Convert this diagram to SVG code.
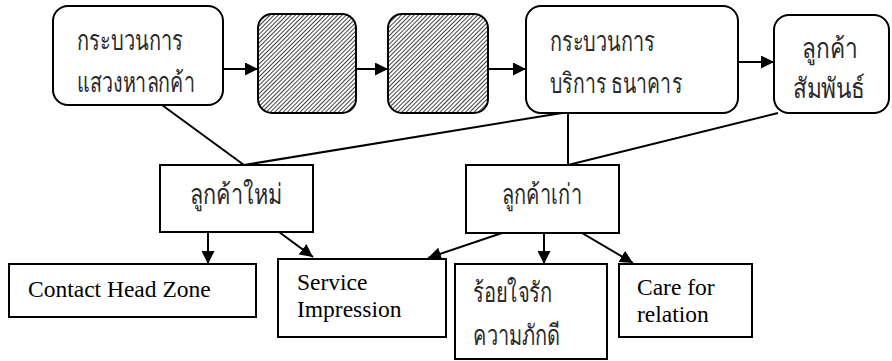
<svg xmlns="http://www.w3.org/2000/svg" width="892" height="361" viewBox="0 0 892 361">
  <defs>
    <pattern id="hatch" patternUnits="userSpaceOnUse" width="3" height="3" patternTransform="rotate(45)">
      <rect width="3" height="3" fill="#ffffff"/>
      <line x1="0" y1="0" x2="0" y2="3" stroke="#1e1e1e" stroke-width="1.7"/>
    </pattern>
    <marker id="arrow" viewBox="0 0 13 13" refX="13" refY="6.5" markerWidth="13" markerHeight="13" markerUnits="userSpaceOnUse" orient="auto">
      <path d="M0,0 L13,6.5 L0,13 Z" fill="#000"/>
    </marker>
  </defs>
  <style>
    .box { fill: #fff; stroke: #000; stroke-width: 2; }
    .hatched { fill: url(#hatch); stroke: #000; stroke-width: 2; }
    .thai { font-family: "Noto Sans", "DejaVu Sans", sans-serif; font-size: 28px; font-weight: normal; fill: #2a2a2a; }
    .en { font-family: "Liberation Serif", "Times New Roman", serif; font-size: 23.5px; fill: #000; }
    .link { stroke: #000; stroke-width: 2; fill: none; }
    .arr { stroke: #000; stroke-width: 2; fill: none; marker-end: url(#arrow); }
  </style>

  <!-- connectors -->
  <g id="connectors">
    <line class="arr" x1="223" y1="69" x2="258" y2="69"/>
    <line class="arr" x1="356" y1="69" x2="388" y2="69"/>
    <line class="arr" x1="488" y1="69" x2="526" y2="69"/>
    <line class="arr" x1="738" y1="62" x2="774" y2="62"/>
    <line class="link" x1="162" y1="105" x2="244" y2="165"/>
    <line class="link" x1="562" y1="113" x2="244" y2="165"/>
    <line class="link" x1="568" y1="113" x2="568" y2="165"/>
    <line class="link" x1="778" y1="113" x2="568" y2="165"/>
    <line class="arr" x1="208" y1="232" x2="208" y2="264"/>
    <line class="arr" x1="279" y1="232" x2="313" y2="257"/>
    <line class="arr" x1="502" y1="233" x2="428" y2="258"/>
    <line class="arr" x1="544" y1="233" x2="544" y2="264"/>
    <line class="arr" x1="582" y1="233" x2="633" y2="263"/>
  </g>

  <!-- top row -->
  <g id="seek">
    <rect class="box" x="53" y="6" width="170" height="99" rx="15"/>
    <text class="thai" x="77" y="50" textLength="106" lengthAdjust="spacingAndGlyphs">กระบวนการ</text>
    <text class="thai" x="77" y="92" textLength="118" lengthAdjust="spacingAndGlyphs">แสวงหาลกค้า</text>
  </g>
  <g id="step2">
    <rect class="hatched" x="258" y="14" width="98" height="99" rx="14"/>
  </g>
  <g id="step3">
    <rect class="hatched" x="388" y="14" width="100" height="99" rx="14"/>
  </g>
  <g id="service">
    <rect class="box" x="526" y="6" width="212" height="107" rx="15"/>
    <text class="thai" x="550" y="51" textLength="105" lengthAdjust="spacingAndGlyphs">กระบวนการ</text>
    <text class="thai" x="550" y="93" textLength="132" lengthAdjust="spacingAndGlyphs">บริการ ธนาคาร</text>
  </g>
  <g id="relation">
    <rect class="box" x="774" y="15" width="115" height="98" rx="15"/>
    <text class="thai" x="802" y="58" textLength="56" lengthAdjust="spacingAndGlyphs">ลูกค้า</text>
    <text class="thai" x="793" y="98" textLength="72" lengthAdjust="spacingAndGlyphs">สัมพันธ์</text>
  </g>

  <!-- middle row -->
  <g id="new-customer">
    <rect class="box" x="160" y="165" width="153" height="67"/>
    <text class="thai" x="190" y="204" textLength="92" lengthAdjust="spacingAndGlyphs">ลูกค้าใหม่</text>
  </g>
  <g id="old-customer">
    <rect class="box" x="466" y="165" width="153" height="68"/>
    <text class="thai" x="502" y="204" textLength="80" lengthAdjust="spacingAndGlyphs">ลูกค้าเก่า</text>
  </g>

  <!-- bottom row -->
  <g id="contact">
    <rect class="box" x="9" y="264" width="247" height="53"/>
    <text class="en" x="28" y="297">Contact Head Zone</text>
  </g>
  <g id="impression">
    <rect class="box" x="278" y="259" width="168" height="78"/>
    <text class="en" x="297" y="290">Service</text>
    <text class="en" x="297" y="317">Impression</text>
  </g>
  <g id="loyalty">
    <rect class="box" x="455" y="264" width="152" height="95"/>
    <text class="thai" x="473" y="302" textLength="79" lengthAdjust="spacingAndGlyphs">ร้อยใจรัก</text>
    <text class="thai" x="473" y="345" textLength="87" lengthAdjust="spacingAndGlyphs">ความภักดี</text>
  </g>
  <g id="care">
    <rect class="box" x="619" y="264" width="133" height="73"/>
    <text class="en" x="637" y="295">Care for</text>
    <text class="en" x="637" y="322">relation</text>
  </g>
</svg>
